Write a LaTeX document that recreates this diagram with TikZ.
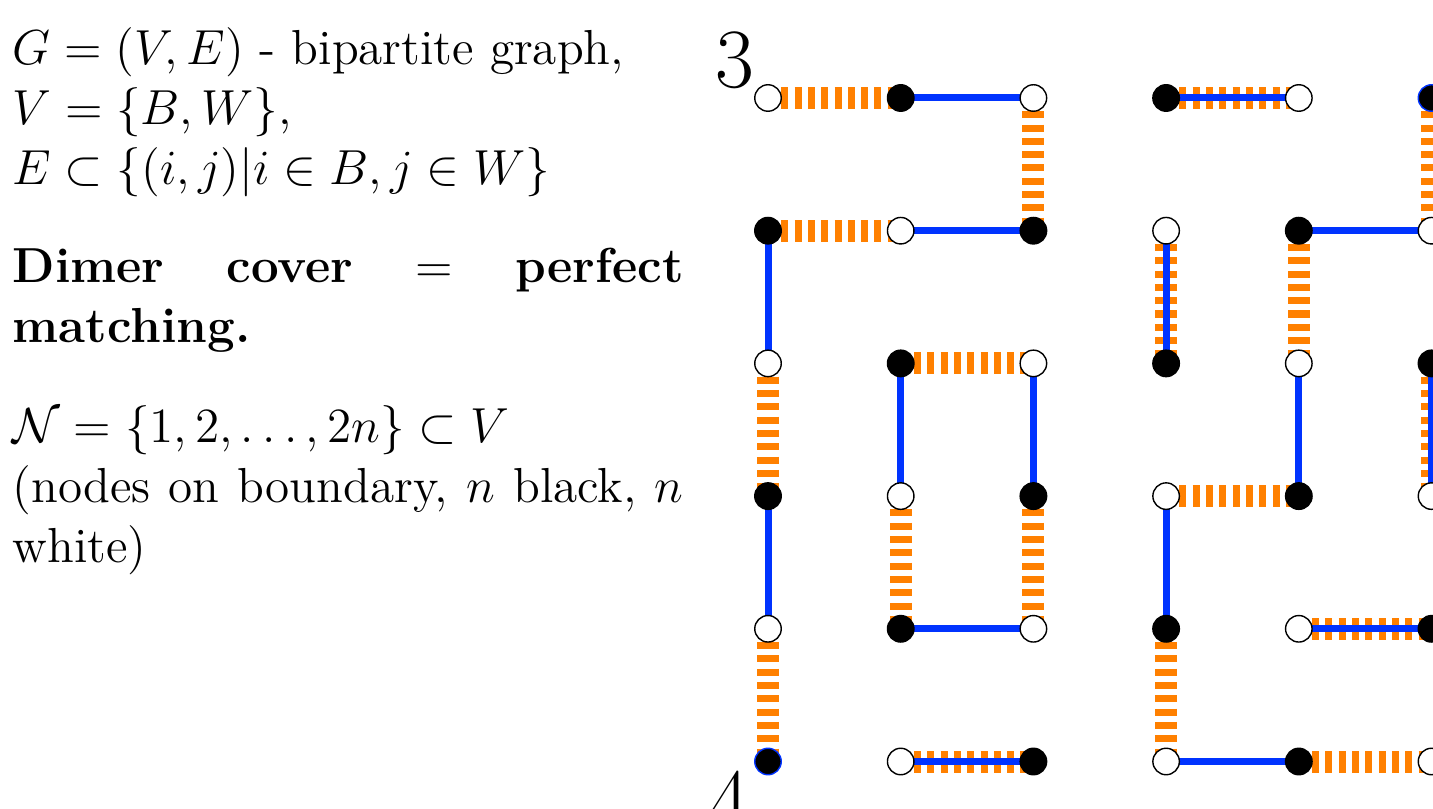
\documentclass[tikz,border=0pt]{standalone}
\usepackage{fix-cm}
\usepackage{amsmath,amssymb}
\usetikzlibrary{positioning,calc,backgrounds}
\definecolor{dimerblue}{RGB}{0,51,255}
\definecolor{dimerorange}{RGB}{255,128,0}
\tikzset{
  bnode/.style={circle,fill=black,draw=black,line width=0.4pt,minimum size=0.265cm,inner sep=0pt},
  wnode/.style={circle,fill=white,draw=black,line width=0.4pt,minimum size=0.265cm,inner sep=0pt},
  ring05/.style={draw=dimerblue},
  ring50/.style={draw=dimerblue},
  blueedge/.style={dimerblue,line width=0.07cm},
  orangeedge/.style={dimerorange,line width=0.22cm,dash pattern=on 0.07cm off 0.063cm},
  bigdigit/.style={anchor=base,inner sep=0pt,font=\fontsize{24}{28}\selectfont},
}

\begin{document}
\begin{tikzpicture}[x=1.327cm,y=-1.327cm]
    \useasboundingbox (-7.68cm,0.98cm) rectangle (6.65cm,-7.11cm);
    % text on the left
    \node[anchor=base west,inner sep=0pt,text width=6.71cm,align=justify,
          font=\fontsize{14}{17.07}\selectfont] (txt) at (-7.56cm,0.33cm) {%
      \parindent=0pt
      $G=(V,E)$ - bipartite graph,\\
      $V=\{B,W\}$,\\
      $E\subset\{(i,j)|i\in B,j\in W\}$\par\vspace{0.38cm}
      \textbf{Dimer cover $=$ perfect matching.}\par\vspace{0.4cm}
      $\mathcal{N}=\{1,2,\ldots,2n\}\subset V$\\
      (nodes on boundary, $n$ black, $n$ white)};
    % grid of vertices
    \foreach \i in {0,...,5}
      \foreach \j in {0,...,5} {
        \pgfmathparse{int(mod(\i+\j,2))}
        \ifnum\pgfmathresult=1
          \node[bnode,ring\i\j/.try] (n\i\j) at (\i,\j) {};
        \else
          \node[wnode] (n\i\j) at (\i,\j) {};
        \fi
      }
    \node[bigdigit] (lab3) at ($(n00)+(-0.25,-0.08)$) {3};
    \node[bigdigit] (lab4) at ($(n00)+(-0.29,5.5)$) {4};
    % the two matchings
    \begin{pgfonlayer}{background}
      \foreach \a/\b/\c/\d in {0/0/1/0,2/0/2/1,0/1/1/1,0/2/0/3,0/4/0/5,1/2/2/2,
                               1/3/1/4,2/3/2/4,1/5/2/5,3/0/4/0,3/1/3/2,4/1/4/2,
                               5/0/5/1,5/2/5/3,3/3/4/3,4/4/5/4,3/4/3/5,4/5/5/5}
        \draw[orangeedge] (n\a\b.center) -- (n\c\d.center);
      \foreach \a/\b/\c/\d in {1/0/2/0,1/1/2/1,0/1/0/2,0/3/0/4,1/2/1/3,2/2/2/3,
                               1/4/2/4,1/5/2/5,3/0/4/0,3/1/3/2,4/1/5/1,4/2/4/3,
                               3/3/3/4,3/5/4/5,5/2/5/3,4/4/5/4}
        \draw[blueedge] (n\a\b.center) -- (n\c\d.center);
    \end{pgfonlayer}
\end{tikzpicture}
\end{document}
